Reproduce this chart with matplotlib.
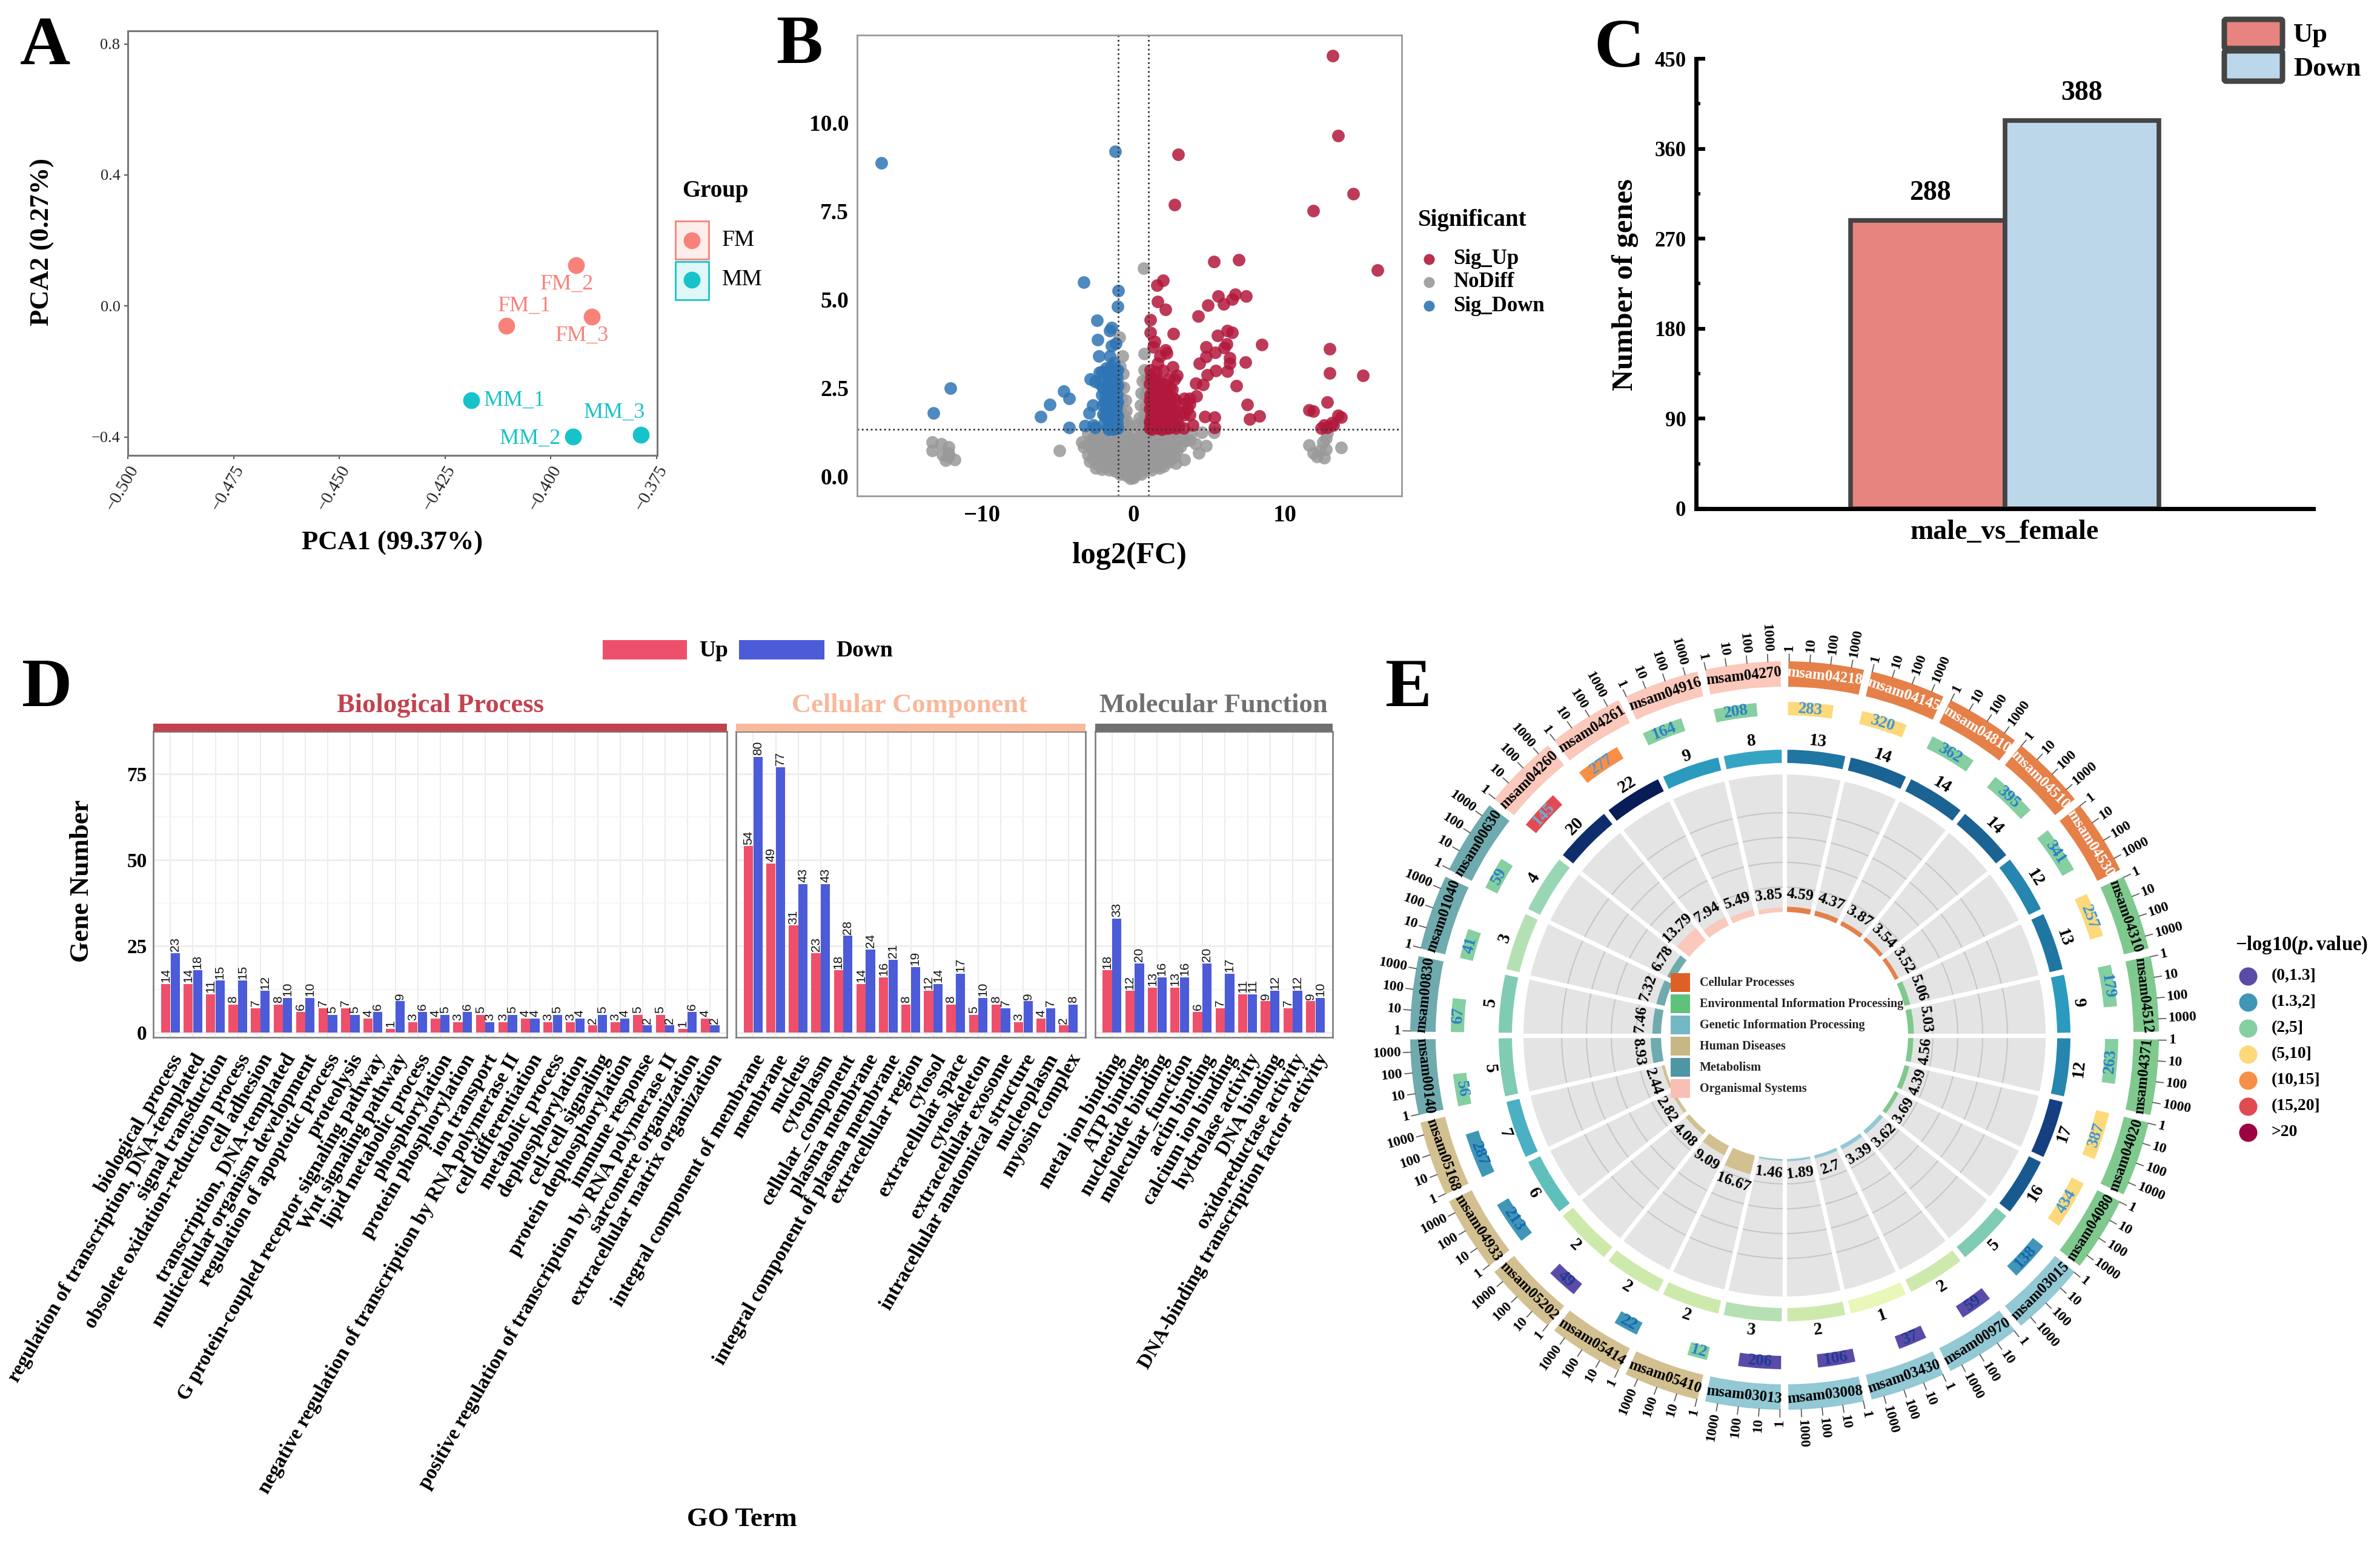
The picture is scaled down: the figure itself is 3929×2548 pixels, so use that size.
import numpy as np
import matplotlib
matplotlib.use("Agg")
import matplotlib.pyplot as plt
from matplotlib.patches import Rectangle, FancyBboxPatch
from matplotlib.ticker import MultipleLocator

plt.rcParams['font.family'] = ['Liberation Serif', 'DejaVu Sans']
plt.rcParams['mathtext.fontset'] = 'custom'
plt.rcParams['mathtext.bf'] = 'Liberation Serif:bold'
plt.rcParams['mathtext.it'] = 'Liberation Serif:italic:bold'
plt.rcParams['axes.unicode_minus'] = True

W, H = 3930, 2548

# ---- panel A
pca_names = ['FM_1', 'FM_2', 'FM_3', 'MM_1', 'MM_2', 'MM_3']
pca_x = [-0.4105, -0.394, -0.3903, -0.4188, -0.3947, -0.3786]
pca_y = [-0.06, 0.125, -0.032, -0.288, -0.399, -0.393]
pca_label_x = [-0.4061, -0.3961, -0.3926, -0.4086, -0.4049, -0.385]
pca_label_y = [0.0, 0.066, -0.091, -0.289, -0.404, -0.326]

# ---- panel B
sig_up = [(13.14,11.89),(13.5,9.63),(2.96,9.1),(14.5,7.98),(2.71,7.67),(11.86,7.51),(6.93,6.12),(5.29,6.06),
 (16.1,5.83),(1.96,5.54),(1.54,5.4),(6.7,5.15),(7.43,5.09),(5.57,5.09),(6.5,5.0),(5.96,4.87),(4.89,4.83),
 (1.6,4.93),(2.1,4.71),(4.25,4.53),(1.1,4.43),(1.1,4.07),(2.64,4.03),(6.2,4.12),(6.5,4.06),(5.54,3.98),
 (8.46,3.72),(1.4,3.81),(1.3,3.66),(6.14,3.73),(6.0,3.63),(4.79,3.66),(12.96,3.6),(5.4,3.5),(2.1,3.57),
 (2.2,3.48),(1.75,3.4),(4.79,3.37),(6.36,3.35),(4.36,3.19),(6.36,3.19),(7.39,3.22),(1.57,3.19),(2.57,3.09),
 (6.2,2.96),(5.43,2.98),(12.93,2.91),(15.14,2.85),(4.86,2.86),(2.86,2.85),(1.95,2.98),(6.8,2.55),(4.1,2.62),
 (4.6,2.59),(4.14,2.26),(3.36,2.2),(3.7,2.2),(3.7,2.05),(3.36,2.05),(7.5,2.03),(12.8,2.09),(11.6,1.87),
 (11.86,1.84),(13.5,1.71),(13.7,1.67),(8.3,1.7),(7.68,1.61),(4.7,1.69),(5.36,1.67),(5.36,1.38),(13.1,1.52),
 (12.6,1.44),(13.2,1.44),(12.8,1.38),(12.4,1.36),
 (1.05,1.35),(1.1,1.5),(1.15,1.7),(1.05,1.9),(1.2,2.1),(1.1,2.3),(1.05,2.6),(1.15,2.8),(1.1,3.0),(1.3,1.4),
 (1.35,1.6),(1.4,1.85),(1.3,2.05),(1.45,2.25),(1.35,2.5),(1.5,2.75),(1.6,1.35),(1.6,1.55),(1.7,1.75),
 (1.65,2.0),(1.55,2.2),(1.75,2.45),(1.8,2.65),(1.9,1.4),(1.95,1.65),(2.0,1.9),(1.85,2.15),(2.05,2.35),
 (2.0,2.6),(2.2,1.35),(2.25,1.55),(2.15,1.8),(2.3,2.05),(2.2,2.3),(2.4,2.5),(2.35,2.75),(2.5,1.4),(2.6,1.65),
 (2.55,1.9),(2.65,2.2),(2.55,2.45),(2.8,1.35),(2.85,1.6),(2.75,1.85),(2.8,2.15),(2.7,2.75),(3.0,1.43),
 (3.36,1.74),(3.7,1.74),(3.9,1.45),(3.2,1.8),(3.55,1.9),(2.3,1.35),(3.3,1.35),
 (1.2,1.33),(1.25,1.55),(1.5,1.45),(1.45,1.7),(1.75,1.5),(1.8,1.85),(2.1,1.45),(2.05,1.7),(1.2,1.95),
 (1.5,2.05),(1.75,2.2),(1.25,2.35),(1.6,2.5),(1.95,2.25),(2.4,1.75),(2.4,2.15),(1.25,2.75),(1.45,2.95),
 (2.45,1.95),(1.05,2.15),(1.05,1.55),(1.35,1.75),(1.85,1.33),(2.65,1.45),(2.1,2.05),(1.65,1.35),(1.15,1.4),
 (1.4,1.5),(1.55,1.9),(1.85,1.6),(2.3,1.65),(1.3,2.2),(1.5,2.4),(2.15,2.5)]
sig_down = [(-16.64,8.86),(-1.21,9.19),(-3.29,5.48),(-1.0,5.24),(-1.07,4.8),(-2.43,4.4),(-1.46,4.2),(-1.57,4.12),
 (-2.36,3.85),(-1.18,3.76),(-1.46,3.68),(-2.29,3.4),(-1.57,3.4),(-12.1,2.49),(-13.2,1.78),(-4.6,2.4),
 (-4.25,2.19),(-5.54,2.02),(-6.14,1.68),(-4.25,1.38),(-2.86,2.75),(-3.2,1.43),(-2.64,1.45),(-2.54,1.38),
 (-2.93,1.79),(-2.7,2.0),(-2.54,2.67),(-2.25,2.93),
 (-1.05,1.35),(-1.1,1.5),(-1.05,1.7),(-1.15,1.9),(-1.05,2.1),(-1.1,2.3),(-1.05,2.55),(-1.1,2.8),(-1.05,3.0),
 (-1.3,1.4),(-1.25,1.6),(-1.35,1.8),(-1.25,2.0),(-1.35,2.2),(-1.3,2.45),(-1.25,2.7),(-1.35,2.95),(-1.3,3.2),
 (-1.5,1.35),(-1.55,1.55),(-1.45,1.75),(-1.6,1.95),(-1.5,2.15),(-1.6,2.35),(-1.45,2.6),(-1.55,2.85),
 (-1.5,3.1),(-1.7,1.4),(-1.75,1.65),(-1.8,1.9),(-1.7,2.1),(-1.85,2.3),(-1.75,2.55),(-1.7,2.8),(-1.8,3.05),
 (-1.95,1.5),(-2.0,1.75),(-2.05,2.0),(-2.1,2.3),(-2.0,2.5),(-2.2,2.6),(-2.1,2.95),
 (-1.15,1.4),(-1.2,1.75),(-1.4,1.5),(-1.15,2.05),(-1.4,1.95),(-1.65,1.55),(-1.55,1.75),(-1.75,1.85),
 (-1.2,2.2),(-1.45,2.3),(-1.7,2.3),(-1.2,2.5),(-1.4,2.75),(-1.65,2.65),(-1.9,1.7),(-1.9,2.1),(-1.2,3.0),
 (-1.55,3.0),(-1.35,1.33),(-1.65,1.33)]
no_diff = [(0.68,5.88),(-0.93,3.92),(-0.75,3.4),(0.71,3.46),(0.72,3.0),(-0.7,2.9),(-0.65,2.5),(0.6,2.7),
 (-0.55,2.15),(0.5,2.35),(-0.5,1.85),(0.45,2.0),(-0.4,1.55),(0.4,1.65),(-0.9,3.1),(0.85,2.75),(0.8,2.3),
 (-0.8,2.2),(-13.3,0.96),(-13.3,0.72),(-12.7,0.91),(-12.2,0.83),(-12.2,0.65),(-12.6,0.6),(-12.4,0.45),
 (-11.8,0.47),(-12.2,0.55),
 (11.6,0.88),(11.86,0.65),(12.1,0.55),(12.6,0.52),(12.7,0.76),(12.3,0.73),(12.7,1.07),(12.8,1.22),(13.7,0.81),
 (12.5,0.96),(-4.9,0.73),(-3.4,0.96),(-3.3,0.83),(3.35,0.47),(4.1,0.91),(4.3,0.65),(4.8,0.86),(4.5,1.24),
 (5.3,1.24),(3.7,1.02),
 (-3.0,1.2),(-2.6,1.1),(-2.2,1.22),(-1.8,1.15),(-1.4,1.2),(-1.0,1.22),(-0.5,1.2),(0.0,1.22),(0.5,1.2),(1.0,1.2),
 (1.5,1.22),(2.0,1.18),(2.6,1.2),(3.2,1.15),(3.8,1.2),
 (-3.0,0.9),(-2.6,0.85),(-2.2,0.95),(-1.8,0.9),(-1.4,0.95),(-1.0,0.9),(-0.5,0.95),(0.0,0.9),(0.5,0.95),(1.0,0.92),
 (1.5,0.9),(2.0,0.95),(2.6,0.9),(3.1,0.85),
 (-3.0,0.6),(-2.5,0.65),(-2.0,0.6),(-1.6,0.65),(-1.2,0.6),(-0.8,0.65),(-0.4,0.6),(0.0,0.65),(0.4,0.6),(0.8,0.65),
 (1.2,0.6),(1.7,0.65),(2.2,0.6),(2.7,0.55),
 (-2.9,0.42),(-2.4,0.35),(-1.9,0.38),(-1.5,0.32),(-1.1,0.38),(-0.7,0.32),(-0.3,0.38),(0.1,0.32),(0.5,0.38),(0.9,0.32),
 (1.3,0.38),(1.8,0.34),(2.3,0.4),(2.8,0.36),
 (-2.1,0.2),(-1.6,0.17),(-1.2,0.14),(-0.8,0.12),(-0.4,0.1),(0.0,0.12),(0.4,0.13),(0.8,0.16),(1.2,0.18),(1.7,0.22),
 (-0.9,0.06),(-0.5,0.03),(-0.2,-0.02),(0.1,0.02),(0.5,0.05),(-0.2,-0.07),(0.0,-0.04),
 (-2.75,1.05),(-2.4,0.98),(-2.0,1.08),(-1.6,1.05),(-1.2,1.08),(-0.8,1.05),(-0.3,1.08),(0.25,1.05),(0.75,1.08),
 (1.25,1.05),(1.75,1.06),(2.3,1.05),(2.9,1.03),(3.4,1.0),
 (-2.75,0.75),(-2.35,0.78),(-1.9,0.76),(-1.5,0.8),(-1.1,0.76),(-0.65,0.8),(-0.2,0.76),(0.2,0.8),(0.65,0.76),(1.05,0.8),
 (1.5,0.76),(1.95,0.78),(2.4,0.75),(2.85,0.72),
 (-2.7,0.5),(-2.2,0.5),(-1.75,0.5),(-1.35,0.48),(-0.95,0.5),(-0.55,0.48),(-0.15,0.5),(0.25,0.48),(0.65,0.5),(1.05,0.48),
 (1.5,0.5),(1.95,0.48),(2.45,0.48),
 (-2.5,0.22),(-1.85,0.26),(-1.4,0.24),(-1.0,0.25),(-0.55,0.22),(-0.15,0.24),(0.25,0.24),(0.65,0.25),(1.05,0.27),(1.5,0.28),(2.0,0.28),
 (-0.6,1.7),(0.55,1.55),(-0.3,1.42),(0.25,1.45),(-0.75,1.55),(0.7,1.75),(-0.85,1.85),(0.8,1.95),(-0.9,2.55),(0.9,2.45),
 (-0.6,1.4),(0.6,1.4),(-0.9,1.4),(0.9,1.4)]

# ---- panel C
deg_names = ['Up', 'Down']
deg_values = [288, 388]

# ---- panel D
bp_terms = ['biological_process', 'regulation of transcription, DNA-templated', 'signal transduction',
            'obsolete oxidation-reduction process', 'cell adhesion', 'transcription, DNA-templated',
            'multicellular organism development', 'regulation of apoptotic process', 'proteolysis',
            'G protein-coupled receptor signaling pathway', 'Wnt signaling pathway', 'lipid metabolic process',
            'phosphorylation', 'protein phosphorylation', 'ion transport',
            'negative regulation of transcription by RNA polymerase II', 'cell differentiation',
            'metabolic process', 'dephosphorylation', 'cell-cell signaling', 'protein dephosphorylation',
            'immune response', 'positive regulation of transcription by RNA polymerase II',
            'sarcomere organization', 'extracellular matrix organization']
bp_up = [14, 14, 11, 8, 7, 8, 6, 7, 7, 4, 1, 3, 4, 3, 5, 3, 4, 3, 3, 2, 3, 5, 5, 1, 4]
bp_down = [23, 18, 15, 15, 12, 10, 10, 5, 5, 6, 9, 6, 5, 6, 3, 5, 4, 5, 4, 5, 4, 2, 2, 6, 2]
cc_terms = ['integral component of membrane', 'membrane', 'nucleus', 'cytoplasm', 'cellular_component',
            'plasma membrane', 'integral component of plasma membrane', 'extracellular region', 'cytosol',
            'extracellular space', 'cytoskeleton', 'extracellular exosome',
            'intracellular anatomical structure', 'nucleoplasm', 'myosin complex']
cc_up = [54, 49, 31, 23, 18, 14, 16, 8, 12, 8, 5, 8, 3, 4, 2]
cc_down = [80, 77, 43, 43, 28, 24, 21, 19, 14, 17, 10, 7, 9, 7, 8]
mf_terms = ['metal ion binding', 'ATP binding', 'nucleotide binding', 'molecular_function', 'actin binding',
            'calcium ion binding', 'hydrolase activity', 'DNA binding', 'oxidoreductase activity',
            'DNA-binding transcription factor activity']
mf_up = [18, 12, 13, 13, 6, 7, 11, 9, 7, 9]
mf_down = [33, 20, 16, 16, 20, 17, 11, 12, 12, 10]

# ---- panel E, clockwise from the top
kegg_ids = ['msam04218', 'msam04145', 'msam04810', 'msam04510', 'msam04530', 'msam04310', 'msam04512',
            'msam04371', 'msam04020', 'msam04080', 'msam03015', 'msam00970', 'msam03430', 'msam03008',
            'msam03013', 'msam05410', 'msam05414', 'msam05202', 'msam04933', 'msam05168', 'msam00140',
            'msam00830', 'msam01040', 'msam00630', 'msam04260', 'msam04261', 'msam04916', 'msam04270']
kegg_class = ['C', 'C', 'C', 'C', 'C', 'E', 'E', 'E', 'E', 'E', 'G', 'G', 'G', 'G',
              'G', 'H', 'H', 'H', 'H', 'H', 'M', 'M', 'M', 'M', 'O', 'O', 'O', 'O']
kegg_total = [283, 320, 362, 395, 341, 257, 179, 263, 387, 434, 138, 59, 37, 106,
              206, 12, 22, 49, 213, 287, 56, 67, 41, 59, 145, 277, 164, 208]
kegg_p_bin = [3, 3, 2, 2, 2, 3, 2, 2, 3, 3, 1, 0, 0, 0,
              0, 2, 1, 0, 1, 1, 2, 2, 2, 2, 5, 4, 2, 2]
kegg_deg = [13, 14, 14, 14, 12, 13, 9, 12, 17, 16, 5, 2, 1, 2,
            3, 2, 2, 2, 6, 7, 5, 5, 3, 4, 20, 22, 9, 8]
kegg_pct = [4.59, 4.37, 3.87, 3.54, 3.52, 5.06, 5.03, 4.56, 4.39, 3.69, 3.62, 3.39, 2.7, 1.89,
            1.46, 16.67, 9.09, 4.08, 2.82, 2.44, 8.93, 7.46, 7.32, 6.78, 13.79, 7.94, 5.49, 3.85]
class_names = ['Cellular Processes', 'Environmental Information Processing', 'Genetic Information Processing',
               'Human Diseases', 'Metabolism', 'Organismal Systems']
p_bins = ['(0,1.3]', '(1.3,2]', '(2,5]', '(5,10]', '(10,15]', '(15,20]', '>20']
log_ticks = ['1', '10', '100', '1000']

class_ring = {'C': '#E58049', 'E': '#7FC98E', 'G': '#93C8D5', 'H': '#D3C091', 'M': '#6FAAAE', 'O': '#FBC8BC'}
class_key = ['#DD6126', '#5FC27A', '#74B8C8', '#C8B684', '#4F96A4', '#F9BEB5']
p_colors = ['#5B4BA8', '#3F96B7', '#85CFA0', '#FDD97A', '#F88F47', '#E04B52', '#9E0142']
p_text = ['#1F3A93', '#1565B0', '#2A7FC8', '#3D97DD', '#4B9BD5', '#6AB0DE', '#6AB0DE']
deg_colors = {1: '#E9F7B8', 2: '#CDEAAC', 3: '#B5E0B3', 4: '#98D6B6', 5: '#80CBB4', 6: '#5FBFBB', 7: '#4AB0C2',
              8: '#36A5C3', 9: '#2B9ABF', 12: '#2686AF', 13: '#1F76A3', 14: '#1A6393', 16: '#185A8F',
              17: '#153F80', 20: '#0E2E6B', 22: '#081D58'}

fig = plt.figure(figsize=(W / 100, H / 100), dpi=100, facecolor='white')


def px_axes(x0, y0, x1, y1, **kw):
    return fig.add_axes([x0 / W, 1 - y1 / H, (x1 - x0) / W, (y1 - y0) / H], **kw)


ov = px_axes(0, 0, W, H)
ov.set_xlim(0, W)
ov.set_ylim(H, 0)
ov.axis('off')
ov.set_zorder(10)


def txt(x, y, s, size, bold=True, ha='center', va='center', rot=0, color='black', **kw):
    ov.text(x, y, s, fontsize=size, fontweight='bold' if bold else 'normal', ha=ha, va=va,
            rotation=rot, color=color, **kw)


for tag, x, y in [('A', 33, 106), ('B', 1281, 104), ('C', 2631, 110), ('D', 36, 1166), ('E', 2286, 1166)]:
    txt(x, y, tag, 83, ha='left', va='baseline')

# A
FM, MM = '#F8827A', '#17C3CA'
ax = px_axes(211, 51, 1085, 752)
ax.set_xlim(-0.5, -0.3748)
ax.set_ylim(-0.456, 0.84)
for n, x, y, lx, ly in zip(pca_names, pca_x, pca_y, pca_label_x, pca_label_y):
    c = FM if n.startswith('FM') else MM
    ax.scatter(x, y, s=400, color=c, linewidths=0)
    ax.text(lx, ly, n, color=c, fontsize=26, ha='center', va='center')
ax.set_xticks([-0.5, -0.475, -0.45, -0.425, -0.4, -0.375])
ax.set_xticklabels(['−0.500', '−0.475', '−0.450', '−0.425', '−0.400', '−0.375'], rotation=60, ha='right',
                   rotation_mode='anchor', fontsize=21, color='#222222')
ax.set_yticks([-0.4, 0, 0.4, 0.8])
ax.set_yticklabels(['−0.4', '0.0', '0.4', '0.8'], fontsize=19, color='#222222')
ax.tick_params(length=4, width=1.5, color='#555555', pad=5)
for s in ax.spines.values():
    s.set_color('#777777')
    s.set_linewidth(2.2)
txt(648, 897, 'PCA1 (99.37%)', 32)
txt(70, 400, 'PCA2 (0.27%)', 32, rot=90)
txt(1181, 315, 'Group', 28)
ov.add_patch(Rectangle((1115, 365), 55, 63, fc='#FDEDEB', ec=FM, lw=2))
ov.add_patch(Rectangle((1115, 432), 55, 63, fc='#E0F7F8', ec=MM, lw=2))
ov.scatter([1142], [397], s=400, color=FM, linewidths=0)
ov.scatter([1142], [462], s=400, color=MM, linewidths=0)
txt(1192, 397, 'FM', 27, bold=False, ha='left')
txt(1192, 462, 'MM', 27, bold=False, ha='left')

# B
UP, DOWN, GRAY = '#B2183B', '#2F74B5', '#999999'
ax = px_axes(1415, 58, 2314, 819)
ax.set_xlim(-18.25, 17.7)
ax.set_ylim(-0.56, 12.47)
for pts, c in [(no_diff, GRAY), (sig_up, UP), (sig_down, DOWN)]:
    a = np.array(pts)
    ax.scatter(a[:, 0], a[:, 1], s=225, color=c, alpha=0.85, linewidths=0)
ax.axhline(1.316, color='#333333', ls=':', lw=2)
ax.axvline(-1, color='#333333', ls=':', lw=2)
ax.axvline(1, color='#333333', ls=':', lw=2)
ax.set_xticks([-10, 0, 10])
ax.set_xticklabels(['−10', '0', '10'], fontsize=28, fontweight='bold')
ax.set_yticks([0, 2.5, 5, 7.5, 10])
ax.set_yticklabels(['0.0', '2.5', '5.0', '7.5', '10.0'], fontsize=27, fontweight='bold')
ax.tick_params(length=0, pad=10)
for s in ax.spines.values():
    s.set_color('#999999')
    s.set_linewidth(2)
txt(1864, 918, 'log2(FC)', 36)
txt(2341, 364, 'Significant', 28, ha='left')
for name, c, y in [('Sig_Up', UP, 428), ('NoDiff', GRAY, 466), ('Sig_Down', DOWN, 505)]:
    ov.scatter([2359], [y], s=170, color=c, alpha=0.9, linewidths=0)
    txt(2399, y, name, 25, ha='left')

# C
ax = px_axes(2800, 97, 3819, 840)
ax.bar([-0.5, 0.5], deg_values, width=1, color=['#E8847F', '#BDD7EA'], edgecolor='#444444', linewidth=5.5)
for x, v in zip([-0.484, 0.5], deg_values):
    ax.annotate(str(v), (x, v), xytext=(0, 33), textcoords='offset points', ha='center', va='center',
                fontsize=33, fontweight='bold')
ax.set_xlim(-2, 2)
ax.set_ylim(0, 450)
ax.set_xticks([0])
ax.set_xticklabels(['male_vs_female'], fontsize=33, fontweight='bold')
ax.set_yticks([0, 90, 180, 270, 360, 450])
ax.set_yticklabels(['0', '90', '180', '270', '360', '450'], fontsize=25, fontweight='bold')
ax.yaxis.set_minor_locator(MultipleLocator(45))
ax.tick_params(axis='x', length=0, pad=13)
ax.tick_params(axis='y', direction='in', length=11, width=4.5, pad=12)
ax.tick_params(axis='y', which='minor', direction='in', length=5, width=4)
ax.spines['top'].set_visible(False)
ax.spines['right'].set_visible(False)
ax.spines['left'].set_linewidth(5)
ax.spines['bottom'].set_linewidth(5)
txt(2683, 470, 'Number of genes', 35, rot=90)
for name, c, y0, y1, ty in [('Up', '#E8847F', 32, 80, 58), ('Down', '#BDD7EA', 84, 134, 114)]:
    ov.add_patch(FancyBboxPatch((3672, y0), 96, y1 - y0, boxstyle='round,pad=0,rounding_size=3',
                                fc=c, ec='#444444', lw=6.5))
    txt(3786, ty, name, 32, ha='left')

# D
D_UP, D_DOWN = '#EE4F6A', '#4C5BD8'
facets = [(253.5, 1200, bp_terms, bp_up, bp_down, 'Biological Process', '#C2424F'),
          (1215.5, 1791.6, cc_terms, cc_up, cc_down, 'Cellular Component', '#F8B89B'),
          (1807.7, 2199.6, mf_terms, mf_up, mf_down, 'Molecular Function', '#707070')]
for k, (x0, x1, terms, up, down, title, col) in enumerate(facets):
    ax = px_axes(x0, 1208, x1, 1713)
    pos = np.arange(1, len(terms) + 1)
    ax.set_axisbelow(True)
    ax.bar(pos - 0.21, up, width=0.41, color=D_UP)
    ax.bar(pos + 0.21, down, width=0.41, color=D_DOWN)
    for p, u, d in zip(pos, up, down):
        for xx, v in [(p - 0.21, u), (p + 0.21, d)]:
            ax.annotate(str(v), (xx, v), xytext=(0, 2), textcoords='offset points', rotation=90, ha='center',
                        va='bottom', fontsize=15, family='Liberation Sans', color='#111111')
    ax.set_xlim(0.25, len(terms) + 0.75)
    ax.set_ylim(-1.46, 87.3)
    ax.set_xticks(pos)
    ax.set_xticklabels(terms, rotation=60, ha='right', va='top', rotation_mode='anchor', fontsize=24,
                       fontweight='bold')
    ax.set_yticks([0, 25, 50, 75])
    ax.set_yticks([12.5, 37.5, 62.5], minor=True)
    ax.grid(True, axis='y', which='major', color='#EDEDED', lw=2)
    ax.grid(True, axis='y', which='minor', color='#F3F3F3', lw=1.2)
    ax.grid(True, axis='x', color='#E9E9E9', lw=1.2)
    ax.tick_params(axis='x', length=0, pad=16)
    ax.tick_params(axis='y', which='both', length=0, pad=8)
    if k == 0:
        ax.set_yticklabels(['0', '25', '50', '75'], fontsize=24, fontweight='bold')
    else:
        ax.set_yticklabels([])
    for s in ax.spines.values():
        s.set_color('#777777')
        s.set_linewidth(1.8)
    ov.add_patch(Rectangle((x0, 1195), x1 - x0, 13, fc=col, ec='none'))
    txt((x0 + x1) / 2 + (0 if k != 1 else -2), 1165, title, 32, color=col)
txt(135, 1455, 'Gene Number', 32, rot=90)
txt(1225, 2509, 'GO Term', 32)
ov.add_patch(Rectangle((995, 1057), 139, 32, fc=D_UP, ec='none'))
txt(1154, 1074, 'Up', 27, ha='left')
ov.add_patch(Rectangle((1220, 1057), 141, 32, fc=D_DOWN, ec='none'))
txt(1380, 1074, 'Down', 27, ha='left')

# E
cx, cy, R = 2946, 1710, 640
pol = px_axes(cx - R, cy - R, cx + R, cy + R, projection='polar')
pol.set_theta_zero_location('N')
pol.set_theta_direction(-1)
pol.set_ylim(0, R)
pol.axis('off')
pol.patch.set_alpha(0)

STEP = 360 / len(kegg_ids)
DEC = 3.2    # degrees per log10 unit
r_bar0, r_gray = 204, 431
rad = np.deg2rad


def tang_rot(t):
    return -t if (t < 90 or t > 270) else 180 - t


def rad_rot(t):
    return 90 - t if t < 180 else 270 - t


pol.bar(0, r_gray - r_bar0, width=2 * np.pi, bottom=r_bar0, color='#E4E4E4', linewidth=0)
full = np.linspace(0, 2 * np.pi, 720)
for r in [245, 286, 327, 368]:
    pol.plot(full, np.full_like(full, r), color='#C6C6C6', lw=1.5)
for i, pct in enumerate(kegg_pct):
    mid = (i + 0.5) * STEP
    pol.bar(rad(mid), pct * 1.9, width=rad(STEP), bottom=r_bar0, color=class_ring[kegg_class[i]], linewidth=0)
for i in range(len(kegg_ids)):
    t = rad(i * STEP)
    pol.plot([t, t], [r_bar0 - 1, r_gray + 1], color='white', lw=5.2, solid_capstyle='butt')

for i, kid in enumerate(kegg_ids):
    start = i * STEP + 0.6
    mid = (i + 0.5) * STEP
    cls = kegg_class[i]
    # outer id ring
    pol.bar(rad(mid), 42, width=rad(STEP - 1.2), bottom=576, color=class_ring[cls], linewidth=0)
    pol.text(rad(mid), 597, kid, fontsize=17.8, fontweight='bold', rotation=tang_rot(mid), ha='center', va='center',
             rotation_mode='anchor', color='white' if cls == 'C' else 'black')
    # log ticks
    for k, lab in enumerate(log_ticks):
        t = start + 0.1 + k * DEC
        pol.plot([rad(t), rad(t)], [618, 630], color='#555555', lw=1.2)
        pol.text(rad(t), 634, lab, fontsize=17, fontweight='bold', rotation=rad_rot(t), va='center',
                 ha='left' if t < 180 else 'right', rotation_mode='anchor', clip_on=False)
    # total genes, log scaled
    v = kegg_total[i]
    w = np.log10(v) * DEC
    b = kegg_p_bin[i]
    pol.bar(rad(start), 22, width=rad(w), bottom=529, align='edge', color=p_colors[b], linewidth=0)
    pol.text(rad(start + w / 2), 540, str(v), fontsize=19.5, fontweight='bold', color=p_text[b], ha='center', va='center',
             rotation=tang_rot(start + w / 2), rotation_mode='anchor')
    # DEG count
    d = kegg_deg[i]
    pol.bar(rad(mid), 22, width=rad(STEP - 1.15), bottom=450, color=deg_colors[d], linewidth=0)
    pol.text(rad(mid), 489, str(d), fontsize=21, fontweight='bold', ha='center', va='center',
             rotation=tang_rot(mid), rotation_mode='anchor')
    # percentage label
    p = kegg_pct[i]
    pol.text(rad(mid), r_bar0 + p * 1.9 + 21, f'{p:g}', fontsize=18.5, fontweight='bold', ha='center', va='center',
             rotation=tang_rot(mid), rotation_mode='anchor')

for name, c, y in zip(class_names, class_key, [1607, 1642, 1677, 1712, 1747, 1782]):
    ov.add_patch(Rectangle((2758, y), 32, 31, fc=c, ec='none'))
    txt(2806, y + 16, name, 14.5, ha='left', color='#222222')

txt(3690, 1561, r'$\mathbf{-log10(}\mathit{p}\mathbf{{.}value)}$', 23.5, ha='left')
for j, (lab, c) in enumerate(zip(p_bins, p_colors)):
    y = 1612 + j * 43
    ov.scatter([3711], [y], s=470, color=c, linewidths=0)
    txt(3750, y, lab, 20, ha='left')

fig.savefig('out.png', dpi=100)
